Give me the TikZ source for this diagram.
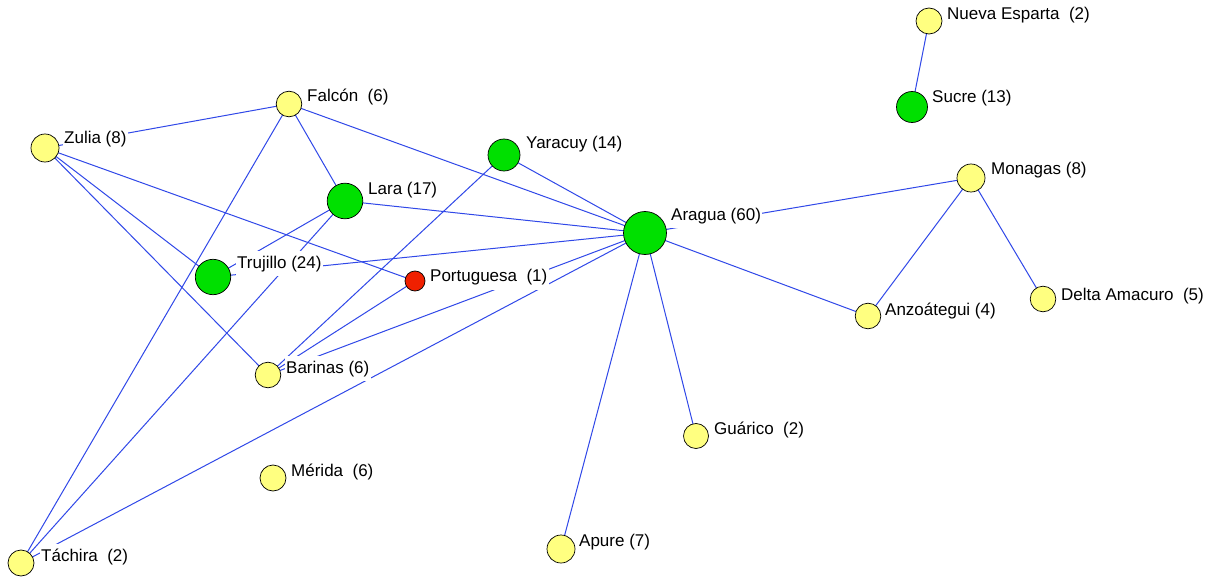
\documentclass[tikz,border=0pt]{standalone}
\usepackage{fontspec}
\setmainfont{Liberation Sans}
\usetikzlibrary{backgrounds}
\definecolor{ngreen}{RGB}{0,224,0}
\definecolor{nyellow}{RGB}{255,255,128}
\definecolor{nred}{RGB}{240,32,0}
\definecolor{eblue}{RGB}{48,72,232}
\begin{document}
\begin{tikzpicture}[x=1pt,y=-1pt,
  vert/.style={circle, draw=black, line width=0.7pt, inner sep=0pt, minimum size=#1},
  vy/.style={vert=#1, fill=nyellow},
  vg/.style={vert=#1, fill=ngreen},
  vr/.style={vert=#1, fill=nred},
  lbl/.style={fill=white, inner xsep=1.5pt, inner ysep=4pt, text height=13pt, text depth=4pt,
    anchor=base west, font=\fontsize{17}{20}\selectfont},
  link/.style={draw=eblue, line width=1pt}]
\useasboundingbox (0,0) rectangle (1208,583);
% vertices
\node[vy=26pt] (nesp) at (929,21) {};
\node[vg=31pt] (sucre) at (912,107) {};
\node[vy=28pt] (monagas) at (971,178) {};
\node[vy=25.6pt] (delta) at (1043,299) {};
\node[vy=25.6pt] (anzo) at (868,316) {};
\node[vg=43pt] (aragua) at (645,233) {};
\node[vy=25pt] (guarico) at (696,436) {};
\node[vy=28pt] (apure) at (561,549) {};
\node[vg=32pt] (yaracuy) at (504,155) {};
\node[vg=35.6pt] (lara) at (345,201) {};
\node[vy=25.6pt] (falcon) at (289,104) {};
\node[vy=28pt] (zulia) at (45,148) {};
\node[vg=35.4pt] (trujillo) at (213,277) {};
\node[vr=20pt] (portuguesa) at (415,281) {};
\node[vy=25.6pt] (barinas) at (268,375) {};
\node[vy=26pt] (tachira) at (21,563) {};
\node[vy=26pt] (merida) at (273,478) {};
% labels
\node[lbl] (nesp-l) at (945.5,19.5) {Nueva Esparta\ \ (2)};
\node[lbl] (sucre-l) at (930.5,103) {Sucre (13)};
\node[lbl] (monagas-l) at (989.5,175) {Monagas (8)};
\node[lbl] (delta-l) at (1059.5,300) {Delta Amacuro\ \ (5)};
\node[lbl] (anzo-l) at (883.5,315) {Anzoátegui (4)};
\node[lbl] (aragua-l) at (669.5,220) {Aragua (60)};
\node[lbl] (guarico-l) at (712.5,434) {Guárico\ \ (2)};
\node[lbl] (apure-l) at (577.5,546) {Apure (7)};
\node[lbl] (yaracuy-l) at (524.5,149) {Yaracuy (14)};
\node[lbl] (lara-l) at (366.5,194) {Lara (17)};
\node[lbl] (falcon-l) at (305.5,102) {Falcón\ \ (6)};
\node[lbl] (zulia-l) at (62.5,144) {Zulia (8)};
\node[lbl] (trujillo-l) at (235.5,268) {Trujillo (24)};
\node[lbl] (portuguesa-l) at (428.5,281.5) {Portuguesa\ \ (1)};
\node[lbl] (barinas-l) at (284.5,373) {Barinas (6)};
\node[lbl] (tachira-l) at (39.5,561) {Táchira\ \ (2)};
\node[lbl] (merida-l) at (289.5,476) {Mérida\ \ (6)};
% edges
\begin{pgfonlayer}{background}
\fill[white] (0,0) rectangle (1208,583);
\foreach \a/\b in {nesp/sucre, zulia/falcon, zulia/trujillo, zulia/barinas, zulia/portuguesa,
  falcon/lara, falcon/aragua, falcon/tachira, lara/aragua, lara/trujillo, lara/tachira,
  yaracuy/aragua, yaracuy/barinas, trujillo/aragua, portuguesa/barinas, barinas/aragua,
  tachira/aragua, aragua/monagas, aragua/anzo, aragua/guarico, aragua/apure,
  monagas/anzo, monagas/delta}
  \draw[link] (\a.center) -- (\b.center);
\end{pgfonlayer}
\end{tikzpicture}
\end{document}
